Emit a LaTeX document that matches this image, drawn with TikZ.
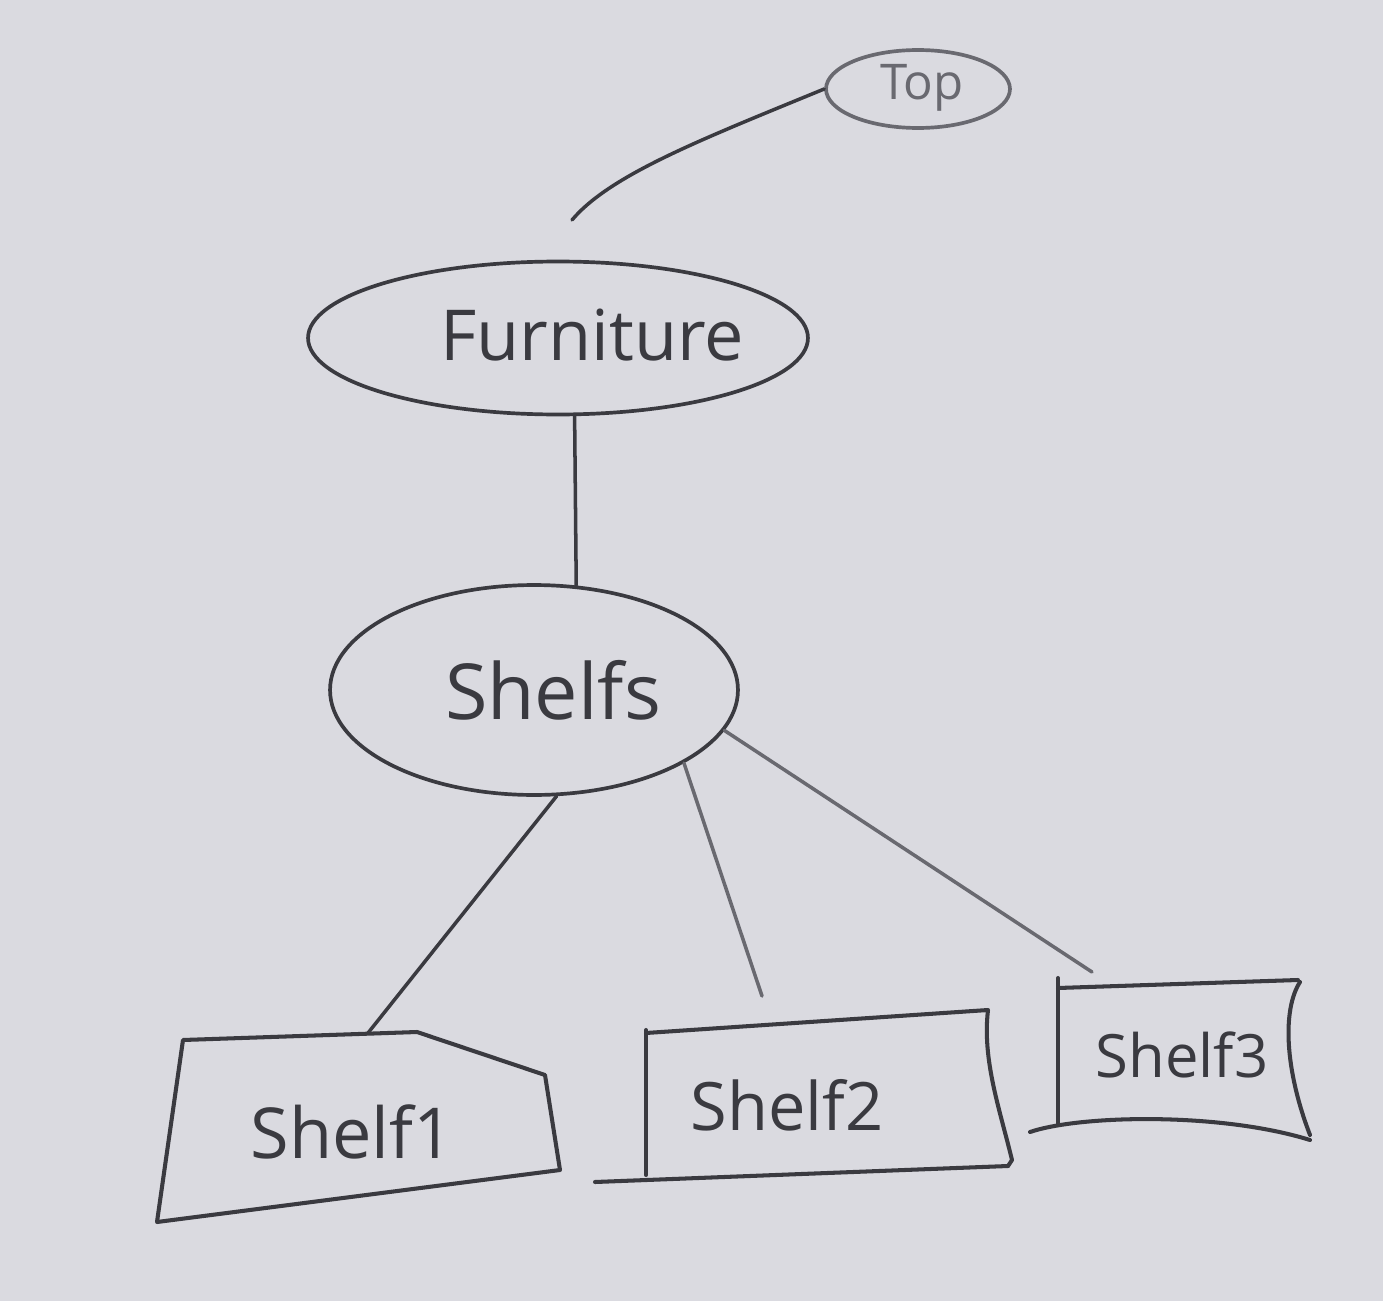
\documentclass[tikz,border=0pt]{standalone}
\usepackage{fontspec}
\setmainfont{Open Sans}
\usetikzlibrary{shapes.geometric}
\definecolor{paper}{RGB}{218,218,224}
\definecolor{ink}{RGB}{58,58,64}
\definecolor{softink}{RGB}{105,105,112}
\begin{document}
\begin{tikzpicture}[x=0.02cm,y=-0.02cm,
  oval/.style={ellipse, draw=ink, line width=2.1pt, inner sep=0pt},
  lbl/.style={text=ink, inner sep=0pt},
  link/.style={draw=ink, line width=2pt, line cap=round},
  shelfbox/.style={draw=ink, line width=2.3pt, line join=round, line cap=round}]
\fill[paper] (0,0) rectangle (1383,1301);
\useasboundingbox (0,0) rectangle (1383,1301);

% ellipses
\node[oval, draw=softink, minimum width=3.68cm, minimum height=1.56cm] (top) at (918,89) {};
\node[oval, minimum width=10cm, minimum height=3.06cm] (furn) at (558,338) {};
\node[oval, minimum width=8.16cm, minimum height=4.2cm] (shelfs) at (534,690) {};

\node[lbl, text=softink, font=\fontsize{28}{30}\selectfont] (toptxt) at (922,88) {Top};
\node[lbl, font=\fontsize{40}{44}\selectfont] (furntxt) at (592,335) {Furniture};
\node[lbl, font=\fontsize{44}{48}\selectfont] (shelfstxt) at (553,690) {Shelfs};

% shelf boxes
\draw[shelfbox] (183,1040) -- (417,1032) -- (545,1075) -- (560,1170) -- (157,1222) -- cycle;
\node[lbl, font=\fontsize{40}{44}\selectfont] (s1) at (352,1132) {Shelf1};

\draw[shelfbox] (646,1030) -- (646,1175);
\draw[shelfbox] (646,1033) -- (988,1010) .. controls (982,1060) and (1000,1110) .. (1012,1160) -- (1008,1166);
\draw[shelfbox] (595,1182) -- (1008,1166);
\node[lbl, font=\fontsize{38}{42}\selectfont] (s2) at (787,1105) {Shelf2};

\draw[shelfbox] (1058,978) -- (1058,1125);
\draw[shelfbox] (1058,988) -- (1298,980);
\draw[shelfbox] (1300,982) .. controls (1282,1010) and (1285,1070) .. (1310,1135);
\draw[shelfbox] (1030,1132) .. controls (1080,1115) and (1220,1112) .. (1310,1140);
\node[lbl, font=\fontsize{34}{38}\selectfont] (s3) at (1182,1055) {Shelf3};

% connector free ends
\coordinate (ftop) at (572,220);
\coordinate (s1end) at (368,1033);
\coordinate (s2end) at (762,996);
\coordinate (s3end) at (1092,972);

% connectors
\draw[link] (top.west) .. controls (700,140) and (610,175) .. (ftop);
\draw[link] (furn.-78) -- (shelfs.68);
\draw[link] (shelfs.-78) -- (s1end);
\draw[link, draw=softink] (shelfs.-26.6) -- (s2end);
\draw[link, draw=softink] (s3end) -- (shelfs.-12);
\end{tikzpicture}
\end{document}
